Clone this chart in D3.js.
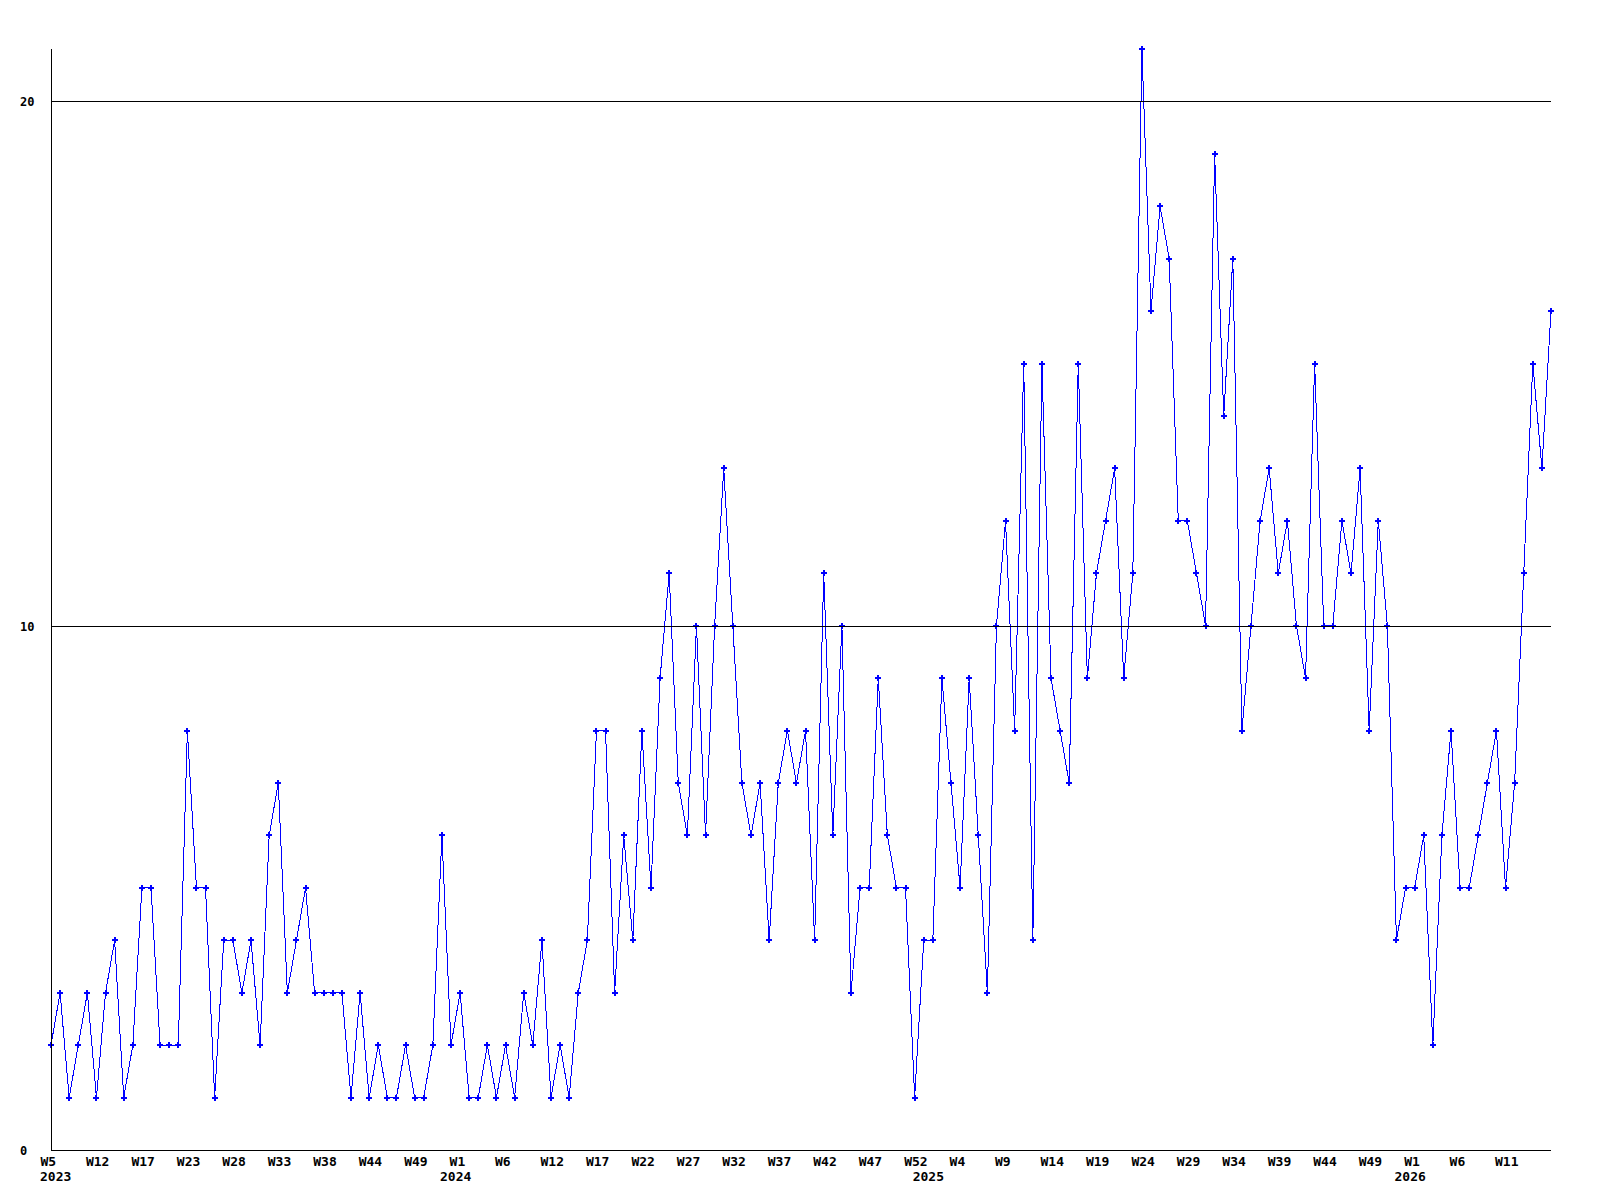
<!DOCTYPE html>
<html>
<head>
<meta charset="utf-8">
<script src="https://d3js.org/d3.v7.min.js"></script>
<style>
  body { margin: 0; background: #fff; }
  svg { display: block; }
  text { font-family: "DejaVu Sans Mono", "Liberation Mono", monospace; font-weight: bold; fill: #000; }
</style>
</head>
<body>
<div id="chart"></div>
<script>
// weekly counts, first point is 2023 W5
var counts = [
  2,3,1,2,3,1,3,4,1,2, 5,5,2,2,2,8,5,5,1,4, 4,3,4,2,6,7,3,4,5,3,
  3,3,3,1,3,1,2,1,1,2, 1,1,2,6,2,3,1,1,2,1, 2,1,3,2,4,1,2,1,3,4,
  8,8,3,6,4,8,5,9,11,7, 6,10,6,10,13,10,7,6,7,4, 7,8,7,8,4,11,6,10,3,5,
  5,9,6,5,5,1,4,4,9,7, 5,9,6,3,10,12,8,15,4,15, 9,8,7,15,9,11,12,13,9,11,
  21,16,18,17,12,12,11,10,19,14, 17,8,10,12,13,11,12,10,9,15, 10,10,12,11,13,8,12,10,4,5,
  5,6,2,6,8,5,5,6,7,8, 5,7,11,15,13,16
];

// week labels under the axis, one every 5 points
var weekLabels = ["W5","W12","W17","W23","W28","W33","W38","W44","W49","W1","W6",
  "W12","W17","W22","W27","W32","W37","W42","W47","W52","W4","W9",
  "W14","W19","W24","W29","W34","W39","W44","W49","W1","W6","W11"];
var weekTickIdx = weekLabels.map(function(d, i) { return i * 5; });

// year labels and the point where each year starts
var yearLabels = ["2023","2024","2025","2026"];
var yearIdx = [0, 44, 96, 149];

var yTicks = [0, 10, 20];

var width = 1600, height = 1200;
// note: "top" is taken by window.top, so plot* names
var plotLeft = 51, plotRight = 1551, plotTop = 49, plotBottom = 1150;

var svg = d3.select("#chart").append("svg")
    .attr("width", width)
    .attr("height", height);

var x = d3.scaleLinear().domain([0, counts.length - 1]).range([plotLeft, plotRight]);
var y = d3.scaleLinear().domain([0, 21]).range([plotBottom, plotTop]);

// data line + markers
var line = d3.line()
    .x(function(d, i) { return x(i); })
    .y(function(d) { return y(d); });

svg.append("path")
    .datum(counts)
    .attr("d", line)
    .attr("fill", "none")
    .attr("stroke", "#0000ff")
    .attr("stroke-width", 1)
    .attr("shape-rendering", "crispEdges");

svg.append("g")
    .selectAll("path")
    .data(counts)
    .enter().append("path")
    .attr("d", d3.symbol().type(d3.symbolCross).size(20))
    .attr("transform", function(d, i) { return "translate(" + x(i) + "," + y(d) + ")"; })
    .attr("fill", "#0000ff")
    .attr("shape-rendering", "crispEdges");

// y axis: gridlines at 10 and 20, labels left aligned
var yAxis = svg.append("g")
    .attr("transform", "translate(" + plotLeft + ",0)")
    .call(d3.axisLeft(y).tickValues(yTicks).tickSize(-(plotRight - plotLeft)).tickFormat(d3.format("d")));

yAxis.select(".domain").remove();
yAxis.selectAll(".tick line")
    .attr("stroke", "#000")
    .attr("shape-rendering", "crispEdges")
    .attr("display", function(d) { return d === 0 ? "none" : null; });
yAxis.selectAll(".tick text")
    .attr("text-anchor", "start")
    .attr("x", 20 - plotLeft)
    .attr("dy", "0.36em")
    .style("font-size", "12px");

// x axis: just the week labels, no tick marks
var xAxis = svg.append("g")
    .attr("transform", "translate(0," + plotBottom + ")")
    .call(d3.axisBottom(x).tickValues(weekTickIdx).tickSize(0)
      .tickFormat(function(d, i) { return weekLabels[i]; }));

xAxis.select(".domain").remove();
xAxis.selectAll(".tick text")
    .attr("text-anchor", "start")
    .attr("x", -11)
    .attr("y", 16)
    .attr("dy", 0)
    .style("font-size", "13px");

svg.append("g")
    .selectAll("text")
    .data(yearLabels)
    .enter().append("text")
    .attr("x", function(d, i) { return x(yearIdx[i]) - 11; })
    .attr("y", plotBottom + 31)
    .style("font-size", "13px")
    .text(function(d) { return d; });

// frame: left and bottom axis lines
svg.append("line")
    .attr("x1", plotLeft).attr("x2", plotLeft)
    .attr("y1", plotTop).attr("y2", plotBottom)
    .attr("stroke", "#000")
    .attr("shape-rendering", "crispEdges");

svg.append("line")
    .attr("x1", plotLeft).attr("x2", plotRight)
    .attr("y1", plotBottom).attr("y2", plotBottom)
    .attr("stroke", "#000")
    .attr("shape-rendering", "crispEdges");
</script>
</body>
</html>
